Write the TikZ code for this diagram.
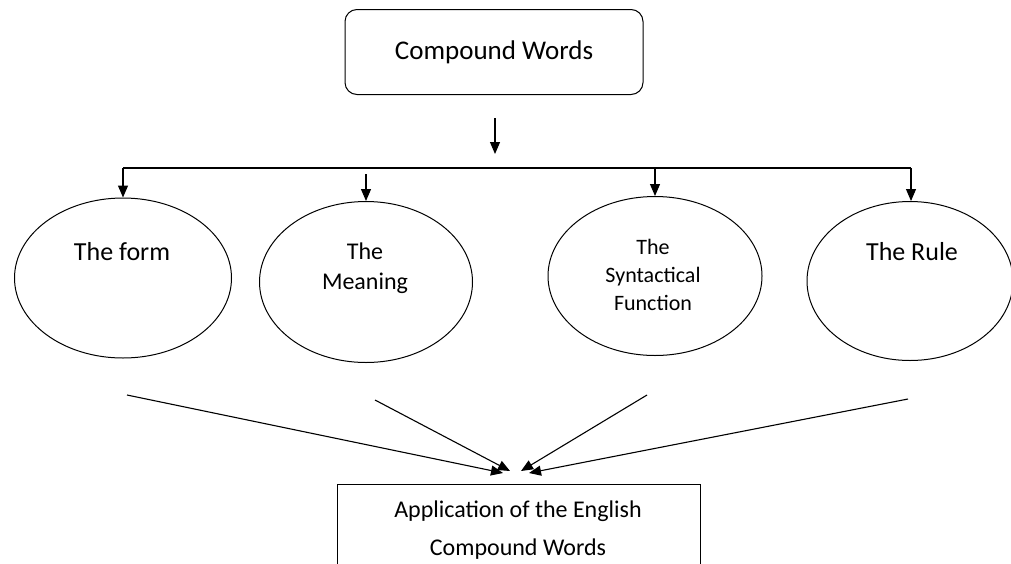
\documentclass[tikz,border=0pt]{standalone}
\usepackage{fontspec}
\setmainfont{Carlito}
\usetikzlibrary{shapes.geometric,arrows.meta}

\begin{document}
\begin{tikzpicture}
	[x=1pt,y=-1pt,
	oval/.style={draw,ellipse,line width=1pt,inner sep=0pt},
	ovaltxt/.style={align=center,inner sep=0pt},
	topbox/.style={draw,rounded corners=12pt,line width=1pt,minimum width=298pt,minimum height=85pt},
	link/.style={line width=1.1pt,-{Triangle[width=10pt,length=12pt]}},
	plain/.style={line width=1.1pt}]
	\clip (0,0) rectangle (1011,563);
	% top box
	\node[topbox,font=\fontsize{27}{30}\selectfont] (cw) at (494,52) {Compound Words};
	\coordinate (cwa) at (495,118);
	\coordinate (cwb) at (495,154);
	\draw[link] (cwa) -- (cwb);
	% the four ovals
	\node[oval,minimum width=217pt,minimum height=160pt] (form) at (123,278) {};
	\node[oval,minimum width=213pt,minimum height=161pt] (mean) at (366,282) {};
	\node[oval,minimum width=214pt,minimum height=159pt] (synt) at (655,276) {};
	\node[oval,minimum width=206pt,minimum height=159pt] (rule) at (910,281) {};
	\node[ovaltxt,font=\fontsize{26}{30}\selectfont] (formtxt) at (122,252) {The form};
	\node[ovaltxt,font=\fontsize{24}{30}\selectfont] (meantxt) at (365,268) {The\\Meaning};
	\node[ovaltxt,font=\fontsize{22}{28}\selectfont] (synttxt) at (653,275) {The\\Syntactical\\Function};
	\node[ovaltxt,font=\fontsize{26}{30}\selectfont] (ruletxt) at (912,252) {The Rule};
	% bus
	\coordinate (busl) at (123,168);
	\coordinate (busr) at (911,168);
	\coordinate (meanbus) at (366,174);
	\draw[plain] (busl) -- (busr);
	\draw[link] (busl) -- (form.north);
	\draw[link] (meanbus) -- (mean.north);
	\draw[link] (synt.north |- busl) -- (synt.north);
	\draw[link] (busr) -- (busr |- rule.north);
	% bottom box
	\node[draw,line width=1pt,minimum width=363pt,minimum height=110pt,anchor=north] (app) at (518.5,484) {};
	\node[ovaltxt,font=\fontsize{24}{38}\selectfont] (apptxt) at (518,530) {Application of the English\\Compound Words};
	% lines to the bottom box
	\coordinate (fa) at (127,395);
	\coordinate (ma) at (375,400);
	\coordinate (sa) at (647,395);
	\coordinate (ra) at (908,399);
	\coordinate (fb) at (503,473);
	\coordinate (mb) at (510,471);
	\coordinate (sb) at (521,471);
	\coordinate (rb) at (529,473);
	\draw[link] (fa) -- (fb);
	\draw[link] (ma) -- (mb);
	\draw[link] (sa) -- (sb);
	\draw[link] (ra) -- (rb);
\end{tikzpicture}
\end{document}
